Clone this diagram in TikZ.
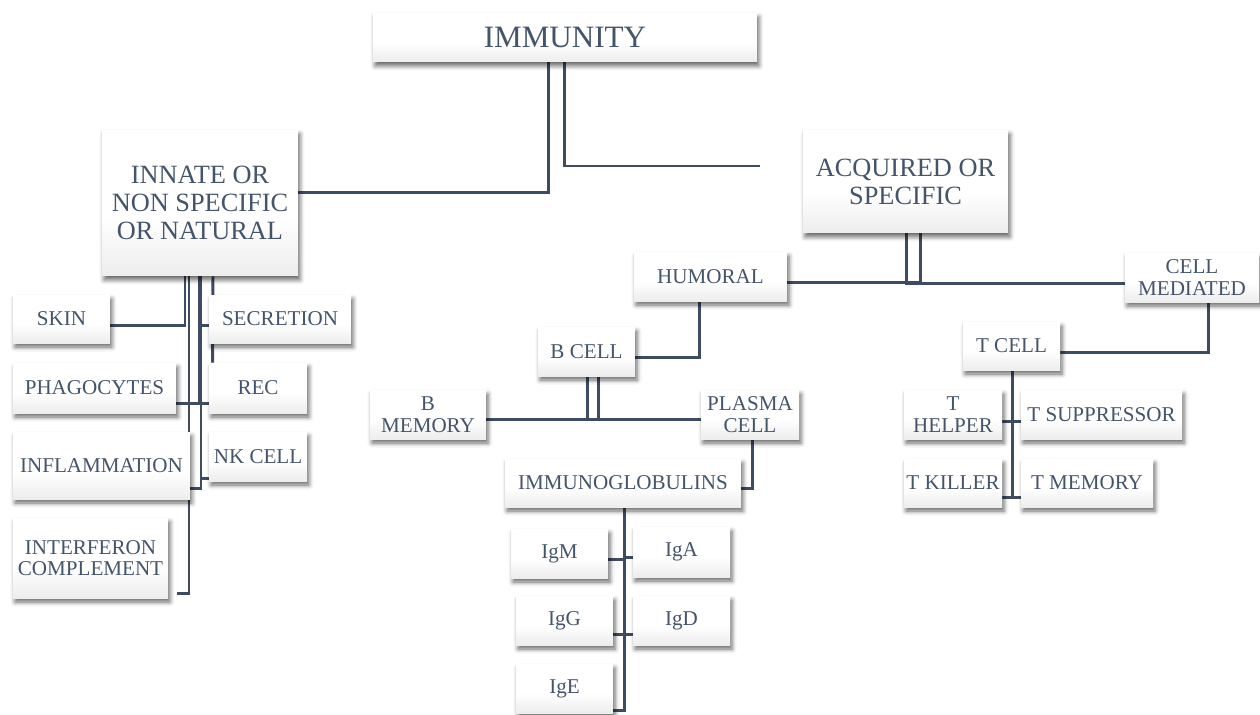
\documentclass[tikz,border=0pt]{standalone}
\usepackage{fontspec}
\setmainfont{Liberation Serif}
\usetikzlibrary{calc,shadows.blur}
\definecolor{ink}{HTML}{44546A}
\definecolor{wire}{HTML}{3E4C62}
\pgfdeclareverticalshading{boxsh}{100bp}{color(0bp)=(black!16); color(45bp)=(white); color(100bp)=(white)}
\pgfdeclarelayer{bg}
\pgfsetlayers{bg,main}
\tikzset{
  bx/.style 2 args={rectangle, shade, shading=boxsh,
    blur shadow={shadow xshift=0.4mm, shadow yshift=-0.8mm, shadow blur radius=0.9mm, shadow opacity=60},
    minimum width=#1*0.2mm, minimum height=#2*0.2mm, inner sep=1pt, align=center,
    text=ink, font=\fontsize{12}{12.3}\selectfont},
  big/.style={font=\fontsize{17.7}{20}\selectfont},
  mid/.style={font=\fontsize{15}{16}\selectfont},
  conn/.style={draw=wire, line width=1.7pt},
}
\begin{document}
\begin{tikzpicture}[x=0.02cm, y=-0.02cm]
\useasboundingbox (0,0) rectangle (1260,714);
% top level
\node[bx={384}{49}, big] (imm) at (565,37.5) {IMMUNITY};
\node[bx={196}{146}, mid] (innate) at (200,203) {INNATE OR\\NON SPECIFIC\\OR NATURAL};
\node[bx={205}{103}, mid] (acq) at (905.5,181.5) {ACQUIRED OR\\SPECIFIC};
% acquired branch
\node[bx={153}{49}] (humoral) at (710.5,276.5) {HUMORAL};
\node[bx={134}{49}] (cellmed) at (1192,277.5) {CELL\\MEDIATED};
\node[bx={97}{49}] (bcell) at (586.5,351.5) {B CELL};
\node[bx={116}{49}] (bmem) at (428,414.5) {B\\MEMORY};
\node[bx={98}{49}] (plasma) at (750,414.5) {PLASMA\\CELL};
\node[bx={236}{48}] (immglob) at (623,483) {IMMUNOGLOBULINS};
\node[bx={97}{49}] (igm) at (559.5,553.5) {IgM};
\node[bx={97}{50}] (iga) at (681.5,552) {IgA};
\node[bx={97}{49}] (igg) at (564.5,620.5) {IgG};
\node[bx={97}{49}] (igd) at (681.5,620.5) {IgD};
\node[bx={97}{49}] (ige) at (564.5,688.5) {IgE};
\node[bx={97}{48}] (tcell) at (1011.5,346) {T CELL};
\node[bx={98}{49}] (thelper) at (953,414.5) {T\\HELPER};
\node[bx={161}{49}] (tsupp) at (1101.5,414.5) {T SUPPRESSOR};
\node[bx={98}{48}] (tkiller) at (953,483) {T KILLER};
\node[bx={132}{48}] (tmem) at (1087,483) {T MEMORY};
% innate branch
\node[bx={97}{48}] (skin) at (61.5,319) {SKIN};
\node[bx={142}{48}] (secretion) at (280,319) {SECRETION};
\node[bx={163}{50}] (phago) at (94.5,388) {PHAGOCYTES};
\node[bx={98}{50}] (rec) at (258,388) {REC};
\node[bx={177}{67}] (inflam) at (101.5,465.5) {INFLAMMATION};
\node[bx={98}{49}] (nk) at (258,456.5) {NK CELL};
\node[bx={155}{80}] (interf) at (90.5,558) {INTERFERON\\COMPLEMENT};
% connectors
\coordinate (acqin) at (760,166);
\coordinate (interfin) at (177,593);
\begin{pgfonlayer}{bg}
\draw[conn] ($(imm.south)+(-17,0)$) |- ($(innate.east)+(0,-11)$);
\draw[conn] ($(imm.south)+(-1,0)$) |- (acqin);
\draw[conn] ($(acq.south)+(14.5,0)$) |- ($(humoral.east)+(0,5.5)$);
\draw[conn] ($(acq.south)+(0.5,0)$) |- ($(cellmed.west)+(0,5.5)$);
\draw[conn] ($(humoral.south)+(-11.5,0)$) |- ($(bcell.east)+(0,5.5)$);
\draw[conn] ($(bcell.south)+(11.5,0)$) |- ($(bmem.east)+(0,4.5)$);
\draw[conn] ($(bcell.south)+(0.5,0)$) |- ($(plasma.west)+(0,4.5)$);
\draw[conn] ($(plasma.south)+(2,0)$) |- ($(immglob.east)+(0,5)$);
\draw[conn] ($(immglob.south)+(1,0)$) |- ($(igm.east)+(0,5.5)$);
\draw[conn] ($(immglob.south)+(1,0)$) |- ($(iga.west)+(0,5)$);
\draw[conn] ($(immglob.south)+(1,0)$) |- ($(igg.east)+(0,13.5)$);
\draw[conn] ($(immglob.south)+(1,0)$) |- ($(igd.west)+(0,13.5)$);
\draw[conn] ($(immglob.south)+(1,0)$) |- ($(ige.east)+(0,21.5)$);
\draw[conn] ($(cellmed.south)+(16,0)$) |- ($(tcell.east)+(0,6)$);
\draw[conn] ($(tcell.south)+(0.5,0)$) |- ($(thelper.east)+(0,6.5)$);
\draw[conn] ($(tcell.south)+(0.5,0)$) |- ($(tsupp.west)+(0,6.5)$);
\draw[conn] ($(tcell.south)+(0.5,0)$) |- ($(tkiller.east)+(0,14)$);
\draw[conn] ($(tcell.south)+(0.5,0)$) |- ($(tmem.west)+(0,14)$);
\draw[conn] ($(innate.south)+(-15,0)$) |- ($(skin.east)+(0,6)$);
\draw[conn] ($(innate.south)+(-11,0)$) |- (interfin);
\draw[conn] ($(innate.south)+(-1,0)$) |- ($(phago.east)+(0,15)$);
\draw[conn] ($(innate.south)+(1,0)$) |- ($(rec.west)+(0,15)$);
\draw[conn] ($(innate.south)+(1,0)$) |- ($(secretion.west)+(0,6)$);
\draw[conn] ($(innate.south)+(1,0)$) |- ($(inflam.east)+(0,22.5)$);
\draw[conn] ($(innate.south)+(1,0)$) |- ($(nk.west)+(0,21.5)$);
\draw[conn] ($(innate.south)+(13,0)$) -- ($(rec.north west)+(4,0)$);
\end{pgfonlayer}
\end{tikzpicture}
\end{document}
